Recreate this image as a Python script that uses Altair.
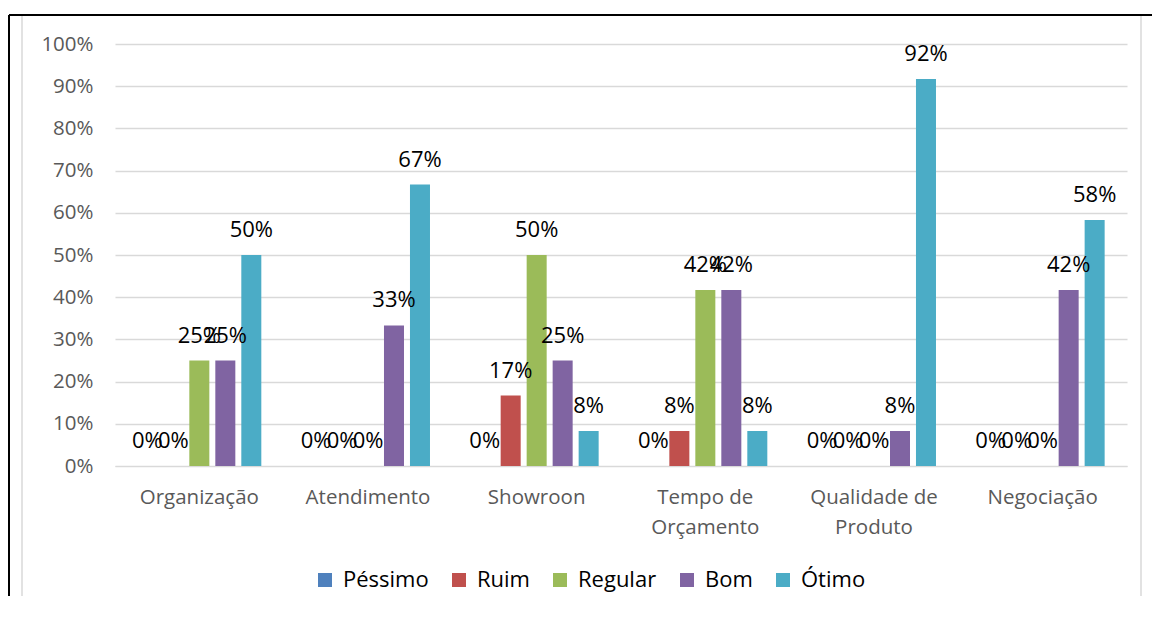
import altair as alt
import pandas as pd

categories = ["Organização", "Atendimento", "Showroon", "Tempo de Orçamento",
              "Qualidade de Produto", "Negociação"]
series = ["Péssimo", "Ruim", "Regular", "Bom", "Ótimo"]
colors = ["#4F81BD", "#C0504D", "#9BBB59", "#8064A2", "#4BACC6"]

pessimo = [0.0, 0.0, 0.0, 0.0, 0.0, 0.0]
ruim = [0.0, 0.0, 0.167, 0.083, 0.0, 0.0]
regular = [0.25, 0.0, 0.5, 0.417, 0.0, 0.0]
bom = [0.25, 0.333, 0.25, 0.417, 0.083, 0.417]
otimo = [0.5, 0.667, 0.083, 0.083, 0.917, 0.583]

values = {"Péssimo": pessimo, "Ruim": ruim, "Regular": regular, "Bom": bom, "Ótimo": otimo}

rows = []
for s in series:
    for c, v in zip(categories, values[s]):
        rows.append({"categoria": c, "serie": s, "valor": v})
df = pd.DataFrame(rows)

FONT = "Open Sans"

label_expr = ("datum.value == 'Tempo de Orçamento' ? ['Tempo de', 'Orçamento'] : "
              "datum.value == 'Qualidade de Produto' ? ['Qualidade de', 'Produto'] : datum.label")

x_enc = alt.X("categoria:N", sort=categories, title=None,
              scale=alt.Scale(paddingInner=0.265, paddingOuter=0.1325),
              axis=alt.Axis(labelAngle=0, ticks=False, domain=True, domainColor="#d9d9d9",
                            labelFont=FONT, labelFontSize=20.5, labelColor="#595959",
                            labelPadding=21, labelLineHeight=30, labelExpr=label_expr,
                            labelLimit=300))
xoff = alt.XOffset("serie:N", sort=series,
                   scale=alt.Scale(paddingInner=0.23, paddingOuter=0))
y_enc = alt.Y("valor:Q", title=None,
              scale=alt.Scale(domain=[0, 1]),
              axis=alt.Axis(format=".0%", values=[i / 10 for i in range(11)],
                            ticks=False, domain=False, gridColor="#d9d9d9", gridWidth=1.5,
                            labelFont=FONT, labelFontSize=20.5, labelColor="#595959",
                            labelPadding=22))

base = alt.Chart(df)

bars = base.mark_bar().encode(
    x=x_enc, xOffset=xoff, y=y_enc,
    color=alt.Color("serie:N", sort=series, title=None,
                    scale=alt.Scale(domain=series, range=colors),
                    legend=alt.Legend(orient="none", legendX=199, legendY=525,
                                      direction="horizontal", symbolType="square",
                                      symbolSize=196, symbolStrokeWidth=0,
                                      labelFont=FONT, labelFontSize=22, labelColor="#000000",
                                      labelOffset=7, columnPadding=19)),
)

labels = base.mark_text(font=FONT, fontSize=22, color="#000000", baseline="alphabetic",
                        dy=-18).encode(
    x=alt.X("categoria:N", sort=categories),
    xOffset=alt.XOffset("serie:N", sort=series),
    y=alt.Y("valor:Q"),
    text=alt.Text("valor:Q", format=".0%"),
)

one = alt.Data(values=[{"k": 1}])
frame_top = alt.Chart(one).mark_rule(color="#000000", strokeWidth=2).encode(
    x=alt.value(-106), x2=alt.value(1040), y=alt.value(-29))
frame_left = alt.Chart(one).mark_rule(color="#000000", strokeWidth=2).encode(
    x=alt.value(-106), y=alt.value(-29), y2=alt.value(560))
frame_gray_left = alt.Chart(one).mark_rule(color="#d9d9d9", strokeWidth=1.5).encode(
    x=alt.value(-93), y=alt.value(-28), y2=alt.value(560))
frame_gray_right = alt.Chart(one).mark_rule(color="#d9d9d9", strokeWidth=1.5).encode(
    x=alt.value(1026), y=alt.value(-28), y2=alt.value(560))

chart = alt.layer(bars, labels, frame_top, frame_left, frame_gray_left, frame_gray_right).properties(
    width=1012, height=422,
    autosize=alt.AutoSizeParams(type="none"),
    padding={"left": 107, "top": 36, "right": 25, "bottom": 130},
).configure_view(stroke=None)

chart.save("out.html", embed_options={"renderer": "svg", "actions": False})
